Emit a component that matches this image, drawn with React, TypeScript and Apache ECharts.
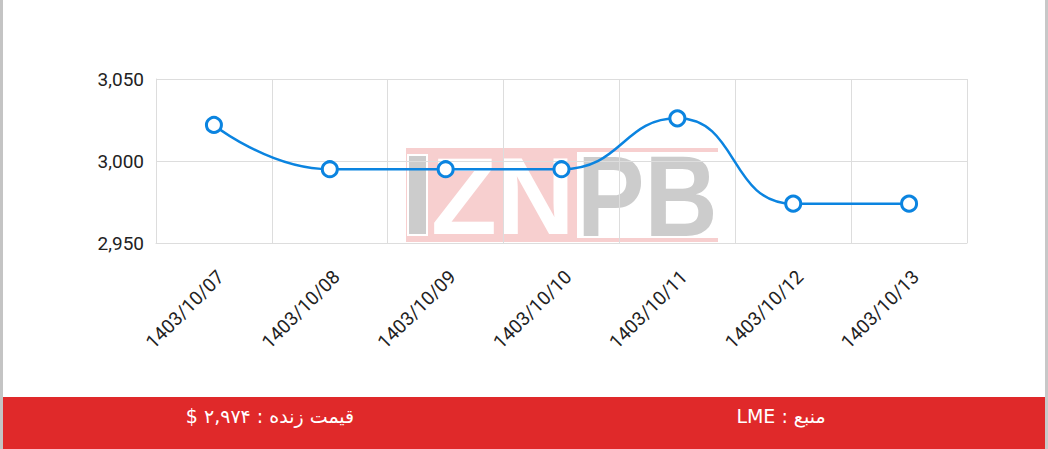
import React, { useEffect, useRef } from "react";
import * as echarts from "echarts";

const categories = [
  "1403/10/07",
  "1403/10/08",
  "1403/10/09",
  "1403/10/10",
  "1403/10/11",
  "1403/10/12",
  "1403/10/13",
];
const prices = [3022, 2995, 2995, 2995, 3026, 2974, 2974];
const yMin = 2950;
const yMax = 3050;
const yStep = 50;
const livePriceText = "$ ۲,۹۷۴ : قیمت زنده";
const sourceText = "LME : منبع";

export default function App() {
  const ref = useRef<HTMLDivElement>(null);

  useEffect(() => {
    document.body.style.margin = "0";
    if (!ref.current) return;
    const chart = echarts.init(ref.current, undefined, { renderer: "svg" });
    const blue = "#0b84e0";
    const pink = "#f7cfcf";
    const gray = "#cccccc";
    chart.setOption({
      animation: false,
      backgroundColor: "#ffffff",
      grid: { left: 156, right: 81, top: 79, bottom: 206, containLabel: false },
      graphic: [
        // outer frame
        { type: "rect", z: -100, silent: true, shape: { x: 0, y: 0, width: 3, height: 449 }, style: { fill: "#c4c4c4" } },
        { type: "rect", z: -100, silent: true, shape: { x: 1045, y: 0, width: 3, height: 449 }, style: { fill: "#c8c8c8" } },
        // watermark
        { type: "rect", z: -50, silent: true, shape: { x: 406, y: 148, width: 312, height: 4 }, style: { fill: pink } },
        { type: "rect", z: -50, silent: true, shape: { x: 406, y: 238, width: 312, height: 4 }, style: { fill: pink } },
        { type: "rect", z: -50, silent: true, shape: { x: 406, y: 148, width: 171, height: 94 }, style: { fill: pink } },
        { type: "rect", z: -49, silent: true, shape: { x: 408, y: 155, width: 19, height: 80 }, style: { fill: gray, stroke: "#ffffff", lineWidth: 2 } },
        {
          type: "text", z: -48, silent: true, x: 431, y: 196, scaleX: 0.98,
          style: { text: "ZN", fill: "#ffffff", font: "bold 110px 'Liberation Sans', Arial, sans-serif", align: "left", verticalAlign: "middle" },
        },
        {
          type: "text", z: -48, silent: true, x: 577, y: 196, scaleX: 0.88,
          style: { text: "PB", fill: gray, font: "bold 115px 'Liberation Sans', Arial, sans-serif", align: "left", verticalAlign: "middle" },
        },
        // bottom band
        { type: "rect", z: 10, silent: true, shape: { x: 3, y: 397, width: 1042, height: 52 }, style: { fill: "#e0292a" } },
        {
          type: "text", z: 11, silent: true, x: 270, y: 416,
          style: { text: livePriceText, fill: "#ffffff", font: "19px 'DejaVu Sans', sans-serif", align: "center", verticalAlign: "middle" },
        },
        {
          type: "text", z: 11, silent: true, x: 781, y: 416,
          style: { text: sourceText, fill: "#ffffff", font: "19px 'DejaVu Sans', sans-serif", align: "center", verticalAlign: "middle" },
        },
      ],
      xAxis: {
        type: "category",
        data: categories,
        boundaryGap: true,
        axisLine: { show: true, lineStyle: { color: "#dddddd" } },
        axisTick: { show: false },
        splitLine: { show: true, lineStyle: { color: "#dddddd", width: 1 } },
        axisLabel: {
          rotate: 45,
          interval: 0,
          margin: 24,
          verticalAlign: "top",
          color: "#222222",
          fontFamily: "Roboto",
          fontSize: 19,
        },
      },
      yAxis: {
        type: "value",
        min: yMin,
        max: yMax,
        interval: yStep,
        axisLine: { show: true, lineStyle: { color: "#dddddd" } },
        axisTick: { show: false },
        splitLine: { show: true, lineStyle: { color: "#dddddd", width: 1 } },
        axisLabel: {
          margin: 12,
          color: "#222222",
          fontFamily: "Roboto",
          fontSize: 19,
          formatter: (v: number) => v.toLocaleString("en-US"),
        },
      },
      series: [
        {
          type: "line",
          data: prices,
          smooth: true,
          symbol: "circle",
          symbolSize: 15,
          showSymbol: true,
          lineStyle: { color: blue, width: 2.5 },
          itemStyle: { color: "#ffffff", borderColor: blue, borderWidth: 3 },
          z: 5,
        },
      ],
    });
    return () => chart.dispose();
  }, []);

  return <div ref={ref} style={{ width: 1048, height: 449 }} />;
}
